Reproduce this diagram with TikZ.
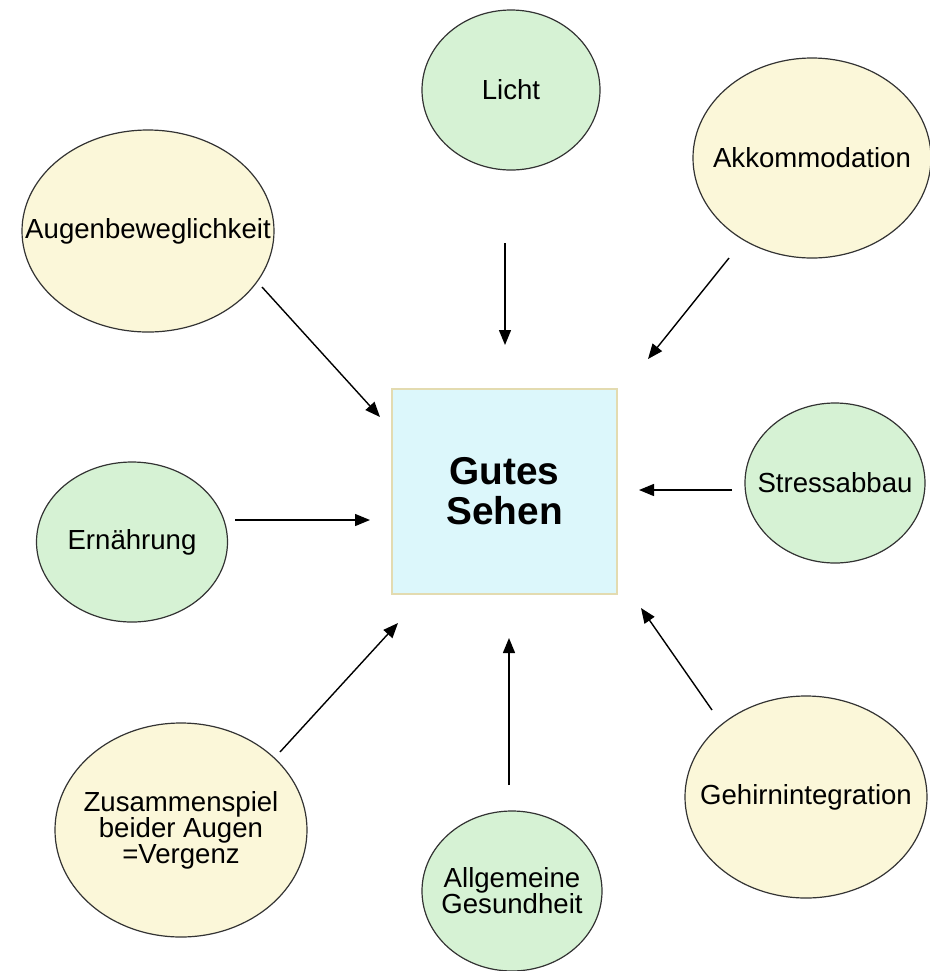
\documentclass[tikz,border=0pt]{standalone}
\usepackage{fontspec}
\setmainfont{Liberation Sans}
\usetikzlibrary{shapes.geometric,arrows.meta}
\definecolor{gruen}{HTML}{D6F2D4}
\definecolor{gelb}{HTML}{FBF7D9}
\definecolor{hblau}{HTML}{DCF7FB}
\definecolor{rand}{HTML}{E3DBB0}

\begin{document}
\begin{tikzpicture}[x=0.5pt,y=-0.5pt,
		oval/.style={ellipse,draw=black!80,line width=0.6pt,inner sep=0pt},
		gr/.style={oval,fill=gruen},
		ge/.style={oval,fill=gelb},
		every label/.style={align=center,font=\fontsize{13.8}{13}\selectfont},
		pfeil/.style={-{Triangle[length=7.5pt,width=6pt]},line width=0.7pt}]
	\useasboundingbox (0,0) rectangle (930,971);
	\node[draw=rand,line width=0.6pt,fill=hblau,minimum width=112.5pt,minimum height=102.5pt,
		font=\fontsize{19.4}{20}\selectfont\bfseries,align=center] (gut) at (504.5,491.5) {Gutes\\Sehen};
	\node[gr,minimum width=89pt,minimum height=80pt,label=center:Licht] (licht) at (511,90) {};
	\node[ge,minimum width=119pt,minimum height=100pt,label=center:Akkommodation] (akko) at (812,158) {};
	\node[ge,minimum width=126pt,minimum height=101pt,label=center:Augenbeweglichkeit] (augen) at (148,231) {};
	\node[gr,minimum width=90pt,minimum height=80pt,label=center:Stressabbau] (stress) at (835,483) {};
	\node[gr,minimum width=95.5pt,minimum height=80pt,label=center:Ernährung] (ern) at (132,542) {};
	\node[ge,minimum width=126pt,minimum height=107pt,
		label={center:Zusammenspiel\\beider Augen\\=Vergenz}] (zus) at (181,830) {};
	\node[gr,minimum width=90pt,minimum height=80pt,
		label={center:Allgemeine\\Gesundheit}] (allg) at (512,891) {};
	\node[ge,minimum width=121pt,minimum height=101pt,label=center:Gehirnintegration] (gehirn) at (806,797) {};

	\coordinate (licht-a) at (505,243);   \coordinate (licht-b) at (505,345);
	\coordinate (akko-a) at (729,258);    \coordinate (akko-b) at (648,359);
	\coordinate (augen-a) at (262,287);   \coordinate (augen-b) at (380,417);
	\coordinate (stress-a) at (732,490);  \coordinate (stress-b) at (639,490);
	\coordinate (ern-a) at (235,520);     \coordinate (ern-b) at (370,520);
	\coordinate (zus-a) at (280,752);     \coordinate (zus-b) at (398,623);
	\coordinate (allg-a) at (509,785);    \coordinate (allg-b) at (509,638);
	\coordinate (gehirn-a) at (712,710);  \coordinate (gehirn-b) at (641,608);

	\path[pfeil]
	(licht-a) edge (licht-b)
	(akko-a) edge (akko-b)
	(augen-a) edge (augen-b)
	(stress-a) edge (stress-b)
	(ern-a) edge (ern-b)
	(zus-a) edge (zus-b)
	(allg-a) edge (allg-b)
	(gehirn-a) edge (gehirn-b);
\end{tikzpicture}
\end{document}
